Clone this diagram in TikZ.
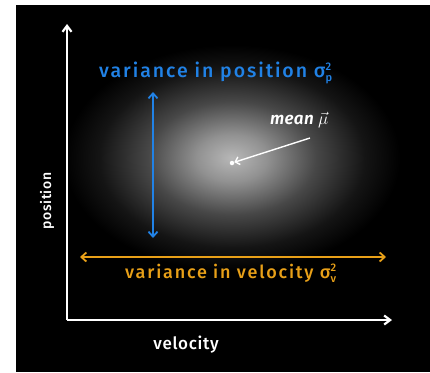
\documentclass[tikz,border=0pt]{standalone}
\usepackage{fontspec}
\setmainfont{Fira Sans}
\newfontfamily\hand[LetterSpace=4]{Fira Sans Medium}
\newfontfamily\handwide[LetterSpace=10]{Fira Sans Medium}
\newfontfamily\handit[LetterSpace=2]{Fira Sans SemiBold Italic}
\usetikzlibrary{arrows.meta}
\definecolor{vblue}{RGB}{33,130,230}
\definecolor{vorange}{RGB}{232,160,24}
\pgfdeclareradialshading{glow}{\pgfpoint{0bp}{0bp}}{%
  color(0bp)=(white!72!black);
  color(5bp)=(white!57!black);
  color(12bp)=(white!28!black);
  color(19bp)=(white!8!black);
  color(24bp)=(black);
  color(50bp)=(black)}
\newcommand{\sig}[1]{σ\rlap{\raisebox{-4pt}{\fontsize{11}{11}\selectfont #1}}\raisebox{7pt}{\fontsize{11}{11}\selectfont 2}}
\begin{document}
\begin{tikzpicture}[x=1pt,y=-1pt,
  axis/.style={draw=white,line width=2.2pt,-{Straight Barb[length=6pt,width=9pt]}},
  dbl/.style={line width=1.8pt,{Straight Barb[length=5pt,width=9pt]}-{Straight Barb[length=5pt,width=9pt]}},
  lbl/.style={font=\fontsize{17}{20}\selectfont\hand, inner sep=0pt},
  wide/.style={font=\fontsize{18}{20}\selectfont\handwide, inner sep=0pt}]
\useasboundingbox (0,0) rectangle (430,372);
\fill[white] (0,0) rectangle (430,372);
\fill[black] (16,5) rectangle (430,372);
\shade[shading=glow] (232,158) ellipse (175 and 118);
\coordinate (o) at (67,320);
\coordinate (ytop) at (67,24);
\coordinate (xend) at (392,320);
\draw[axis] (o) -- (ytop);
\draw[axis] (o) -- (xend);
\node[lbl,white,rotate=90,font=\fontsize{14}{16}\selectfont\hand] (pos) at (47,201) {position};
\node[lbl,white] (vel) at (186,345) {velocity};
\coordinate (bt) at (153,92);
\coordinate (bb) at (153,238);
\draw[dbl,vblue] (bt) -- (bb);
\node[wide,vblue,anchor=west,font=\fontsize{19.5}{22}\selectfont\handwide] (vp) at (99,73) {variance in position \sig{p}};
\coordinate (ol) at (80,257);
\coordinate (or) at (386,257);
\draw[dbl,vorange] (ol) -- (or);
\node[wide,vorange,anchor=west] (vv) at (125,273) {variance in velocity \sig{v}};
\node[circle,fill=white,inner sep=0pt,minimum size=4.5pt] (mu) at (232,163) {};
\node[lbl,white,anchor=west,font=\fontsize{17}{20}\selectfont\handit] (mean) at (270,120) {mean $\vec{\mu}$};
\coordinate (ms) at (310,138);
\draw[white,line width=1.4pt,-{Straight Barb[length=4pt,width=8pt]}] (ms) -- (mu);
\end{tikzpicture}
\end{document}
